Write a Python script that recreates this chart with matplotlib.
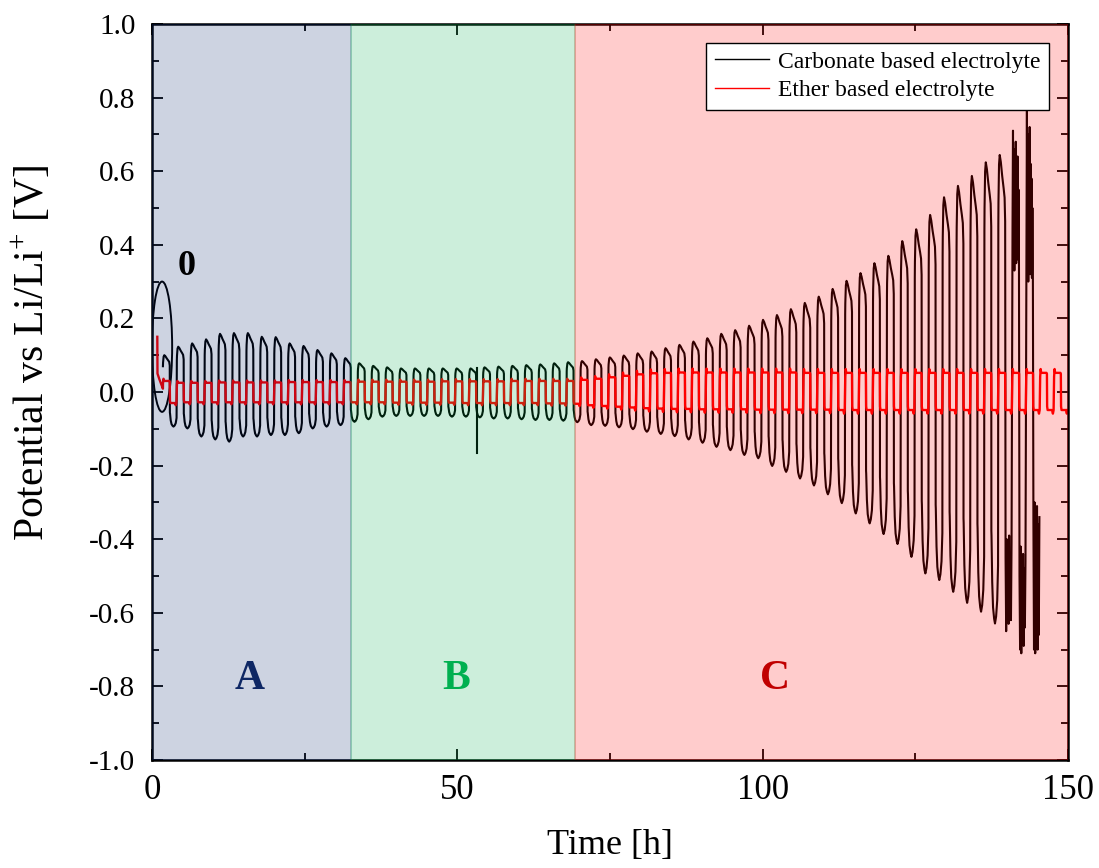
import numpy as np
import matplotlib.pyplot as plt
from matplotlib.patches import Ellipse

plt.rcParams['font.family'] = ['Liberation Serif', 'DejaVu Serif']
plt.rcParams['mathtext.fontset'] = 'custom'
plt.rcParams['mathtext.rm'] = 'Liberation Serif'
plt.rcParams['axes.unicode_minus'] = False

# cycling protocol (h)
cycle_start = 1.79
period = 2.28

# carbonate electrolyte: upper / lower extreme of each cycle (V)
carb_upper = [0.100, 0.123, 0.132, 0.143, 0.158, 0.160, 0.160, 0.150, 0.149, 0.132, 0.125, 0.114, 0.105, 0.092,
              0.078, 0.071, 0.067, 0.064, 0.064, 0.064, 0.064, 0.064, 0.064, 0.067, 0.069, 0.071, 0.073, 0.075, 0.078, 0.081,
              0.084, 0.089, 0.094, 0.099, 0.105, 0.110, 0.119, 0.128, 0.137, 0.146, 0.158, 0.168, 0.180, 0.196, 0.209,
              0.225, 0.242, 0.259, 0.280, 0.302, 0.323, 0.350, 0.370, 0.410, 0.442, 0.481, 0.529, 0.560, 0.587, 0.624,
              0.644, 0.712, 0.766]
carb_lower = [-0.094, -0.099, -0.121, -0.129, -0.135, -0.121, -0.121, -0.117, -0.117, -0.112, -0.099, -0.094, -0.090, -0.081,
              -0.074, -0.067, -0.065, -0.065, -0.065, -0.065, -0.067, -0.067, -0.069, -0.072, -0.072, -0.074, -0.076, -0.076, -0.078, -0.082,
              -0.090, -0.092, -0.096, -0.101, -0.108, -0.114, -0.120, -0.129, -0.138, -0.149, -0.158, -0.171, -0.180, -0.201, -0.217,
              -0.235, -0.254, -0.278, -0.302, -0.330, -0.357, -0.386, -0.413, -0.448, -0.493, -0.511, -0.543, -0.573, -0.597, -0.629,
              -0.647, -0.706, -0.706]

# unstable last cycles (carbonate)
noisy_up_cycles = [61, 62]
noisy_up_values = [[0.45, 0.71, 0.36, 0.66, 0.33, 0.62, 0.40, 0.68, 0.35, 0.58, 0.42, 0.64, 0.36, 0.55, 0.40],
                   [0.40, 0.77, 0.33, 0.70, 0.30, 0.66, 0.38, 0.72, 0.32, 0.62, 0.36, 0.58, 0.31, 0.50, 0.34]]
noisy_low_cycles = [60, 61, 62]
noisy_low_values = [[-0.45, -0.65, -0.40, -0.60, -0.42, -0.63, -0.39, -0.58, -0.44, -0.62, -0.41],
                    [-0.50, -0.70, -0.42, -0.71, -0.45, -0.66, -0.44, -0.69, -0.48, -0.64, -0.46],
                    [-0.35, -0.70, -0.30, -0.71, -0.33, -0.68, -0.31, -0.70, -0.36, -0.66, -0.34]]

# glitch in carbonate trace
glitch_t = 53.2
glitch_top = 0.066
glitch_v = -0.165

# ether electrolyte
ether_start_t = [0.87, 0.90, 1.20]
ether_start_v = [0.150, 0.050, 0.035]
ether_upper = [0.030, 0.025, 0.025, 0.025, 0.026, 0.026, 0.026, 0.026, 0.026, 0.027, 0.027, 0.027, 0.027, 0.027,
               0.028, 0.028, 0.028, 0.028, 0.028, 0.028, 0.029, 0.029, 0.029, 0.029, 0.029, 0.030, 0.030, 0.030, 0.030, 0.030,
               0.033, 0.036, 0.040, 0.044, 0.048, 0.051, 0.052, 0.053, 0.053, 0.053, 0.053, 0.053, 0.053, 0.053, 0.053,
               0.053, 0.052, 0.052, 0.052, 0.052, 0.052, 0.052, 0.052, 0.052, 0.052, 0.052, 0.052, 0.052, 0.052, 0.052,
               0.052, 0.052, 0.052, 0.052, 0.052]
ether_lower = [-0.030, -0.028, -0.028, -0.028, -0.028, -0.028, -0.028, -0.028, -0.028, -0.028, -0.028, -0.028, -0.028, -0.028,
               -0.028, -0.028, -0.029, -0.029, -0.029, -0.029, -0.029, -0.030, -0.030, -0.030, -0.030, -0.030, -0.030, -0.031, -0.031, -0.032,
               -0.036, -0.038, -0.040, -0.042, -0.044, -0.045, -0.046, -0.046, -0.047, -0.047, -0.047, -0.047, -0.048, -0.048, -0.048,
               -0.048, -0.048, -0.048, -0.049, -0.049, -0.049, -0.049, -0.049, -0.049, -0.049, -0.049, -0.049, -0.049, -0.049, -0.049,
               -0.049, -0.049, -0.049, -0.049, -0.049]

regions = ['A', 'B', 'C']
region_edges = [0, 32.6, 69.3, 150]
region_colors = ['#052369', '#00AA4B', '#FF0000']
region_text_colors = ['#0E2764', '#00B050', '#C00000']
region_label_x = [16.0, 49.8, 102.0]

# lobe templates: (fraction of cycle, factor of upper or lower extreme)
carb_up_shape = [(0.00, 0.70), (0.01, 0.80), (0.05, 0.96), (0.10, 1.00), (0.18, 0.97), (0.28, 0.91),
                 (0.38, 0.86), (0.45, 0.82), (0.49, 0.72)]
carb_low_shape = [(0.50, 0.60), (0.51, 0.62), (0.56, 0.82), (0.62, 0.93), (0.70, 0.98), (0.76, 1.00),
                  (0.84, 0.97), (0.92, 0.90), (0.98, 0.75)]
eth_up_shape = [(0.000, 0.30), (0.005, 0.80), (0.04, 1.20), (0.08, 1.00), (0.46, 1.00), (0.49, 0.95)]
eth_low_shape = [(0.505, 0.80), (0.54, 1.00), (0.86, 1.00), (0.92, 1.20), (0.97, 1.00)]


def carbonate_trace():
    t, v = [], []
    for k in range(len(carb_upper)):
        s = cycle_start + k * period
        u, l = carb_upper[k], carb_lower[k]
        if k in noisy_up_cycles:
            vals = noisy_up_values[noisy_up_cycles.index(k)]
            t += list(s + period * np.linspace(0.02, 0.48, len(vals)))
            v += vals
        else:
            for f, m in carb_up_shape:
                t.append(s + f * period)
                v.append(m * u)
        if k in noisy_low_cycles:
            vals = noisy_low_values[noisy_low_cycles.index(k)]
            t += list(s + period * np.linspace(0.52, 0.95, len(vals)))
            v += vals
        else:
            for f, m in carb_low_shape:
                t.append(s + f * period)
                v.append(m * l)
    return t, v


def ether_trace():
    t, v = list(ether_start_t), list(ether_start_v)
    for k in range(len(ether_upper)):
        s = cycle_start + k * period
        for f, m in eth_up_shape:
            t.append(s + f * period)
            v.append(m * ether_upper[k])
        for f, m in eth_low_shape:
            t.append(s + f * period)
            v.append(m * ether_lower[k])
    return t, v


fig = plt.figure(figsize=(10.99, 8.68), dpi=100)
ax = fig.add_axes([0.1383, 0.1244, 0.8335, 0.848])

ct, cv = carbonate_trace()
et, ev = ether_trace()
ax.plot(ct, cv, color='black', lw=1.5, label='Carbonate based electrolyte', zorder=2)
ax.plot([glitch_t, glitch_t], [glitch_top, glitch_v], color='black', lw=1.5, zorder=2)
ax.plot(et, ev, color='red', lw=1.7, label='Ether based electrolyte', zorder=2.1)

ax.add_patch(Ellipse((1.65, 0.123), 3.3, 0.354, fill=False, ec='black', lw=1.4, zorder=2))
ax.text(5.7, 0.34, '0', fontsize=26, fontweight='bold', ha='center', va='center', zorder=6)

for i, name in enumerate(regions):
    ax.axvspan(region_edges[i], region_edges[i + 1], color=region_colors[i], alpha=0.2, lw=1.2, zorder=3)
    ax.text(region_label_x[i], -0.78, name, color=region_text_colors[i], fontsize=30,
            fontweight='bold', ha='center', va='center', zorder=6)

yticks = np.round(np.arange(-1.0, 1.01, 0.2), 1)
ax.set_xlim(0, 150)
ax.set_ylim(-1.0, 1.0)
ax.set_xticks([0, 50, 100, 150])
ax.set_xticks([25, 75, 125], minor=True)
ax.set_yticks(yticks)
ax.set_yticks(np.round(np.arange(-0.9, 1.0, 0.2), 1), minor=True)
ax.set_yticklabels(['%.1f' % (y + 0.0) for y in yticks])
ax.tick_params(which='both', direction='in', top=True, right=True, width=1.3)
ax.tick_params(which='major', length=8)
ax.tick_params(which='minor', length=5)
ax.tick_params(axis='x', labelsize=25, pad=10)
ax.tick_params(axis='y', labelsize=21, pad=12)
for sp in ax.spines.values():
    sp.set_linewidth(1.8)

ax.set_xlabel('Time [h]', fontsize=26, labelpad=16)
ax.set_ylabel('Potential vs Li/Li$^{+}$ [V]', fontsize=30)
ax.yaxis.set_label_coords(-0.108, 0.553)

leg = ax.legend(loc='upper right', fontsize=17, fancybox=False, framealpha=1, edgecolor='black',
                borderaxespad=0.8, handlelength=2.3, borderpad=0.35, labelspacing=0.3, handletextpad=0.4)
leg.get_frame().set_linewidth(1.0)
for line in leg.get_lines():
    line.set_linewidth(1.0)
leg.set_zorder(7)

fig.savefig('out.png', dpi=100)
